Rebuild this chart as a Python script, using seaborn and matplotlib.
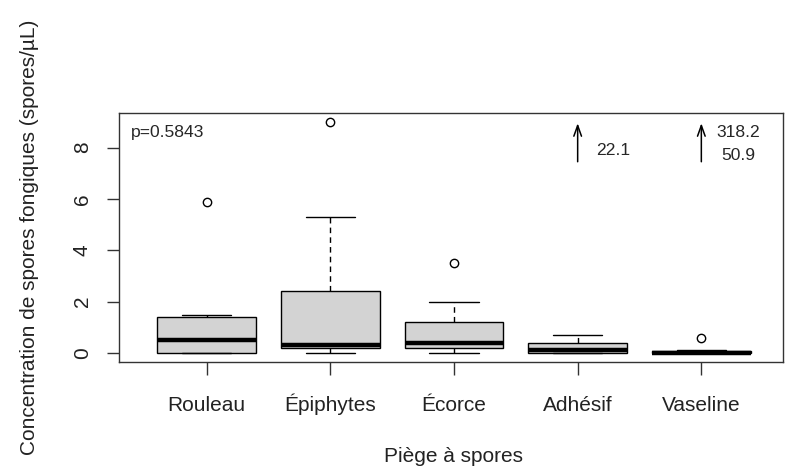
import numpy as np
import pandas as pd
import matplotlib
matplotlib.use('Agg')
import matplotlib.pyplot as plt
import seaborn as sns

# spore concentration per trap type (spores/uL)
traps = ['Rouleau', 'Épiphytes', 'Écorce', 'Adhésif', 'Vaseline']
rouleau = [0, 0, 0, 0.2, 0.5, 1.0, 1.4, 1.5, 5.9]
epiphytes = [0, 0.1, 0.2, 0.25, 0.3, 1.2, 2.4, 5.3, 9.0]
ecorce = [0, 0.1, 0.2, 0.3, 0.4, 0.8, 1.2, 2.0, 3.5]
adhesif = [0, 0.01, 0.02, 0.05, 0.1, 0.2, 0.38, 0.7, 22.1]
vaseline = [0, 0, 0, 0, 0, 0.01, 0.01, 0.02, 0.02, 0.03, 0.05, 0.06, 0.08,
            0.13, 0.58, 50.9, 318.2]

# off-scale outliers written next to arrows
off_labels = ['22.1', '318.2', '50.9']
off_x = [3.29, 4.3, 4.3]
off_y = [7.9, 8.6, 7.7]
arrow_x = [3, 4]
p_text = 'p=0.5843'

groups = [rouleau, epiphytes, ecorce, adhesif, vaseline]
df = pd.DataFrame({
    'Piege': np.repeat(traps, [len(g) for g in groups]),
    'Conc': np.concatenate(groups),
})

sns.set_style('ticks')
plt.rcParams['font.family'] = ['Liberation Sans', 'DejaVu Sans']

fig = plt.figure(figsize=(7.88, 4.69), dpi=100)
ax = fig.add_axes([0.1516, 0.2275, 0.842, 0.5322])

sns.boxplot(data=df, x='Piege', y='Conc', order=traps, ax=ax,
            color='#D3D3D3', linecolor='black', linewidth=1, width=0.8,
            saturation=1, whis=1.5, fliersize=6,
            medianprops={'linewidth': 3.2},
            whiskerprops={'linestyle': (0, (4, 3))},
            flierprops={'marker': 'o', 'markerfacecolor': 'none',
                        'markeredgecolor': 'black', 'markeredgewidth': 1})

ax.set_ylim(-0.36, 9.36)
ax.set_xlim(-0.705, 4.66)
ax.set_yticks([0, 2, 4, 6, 8])

for x in arrow_x:
    ax.annotate('', xy=(x, 8.95), xytext=(x, 7.45),
                arrowprops=dict(arrowstyle='->, head_length=0.7, head_width=0.25',
                                color='black', lw=1.1,
                                shrinkA=0, shrinkB=0, mutation_scale=11))
for lab, x, y in zip(off_labels, off_x, off_y):
    ax.text(x, y, lab, ha='center', va='center', fontsize=12.6)
ax.text(-0.61, 8.6, p_text, ha='left', va='center', fontsize=12.6)

for s in ax.spines.values():
    s.set_visible(True)
    s.set_linewidth(1)
    s.set_color('#333333')

ax.tick_params(axis='both', direction='out', length=9, width=1,
               color='#333333', labelsize=15, labelcolor='#222222')
ax.tick_params(axis='x', pad=26)
ax.tick_params(axis='y', pad=11)
for t in ax.get_xticklabels():
    t.set_va('baseline')
for t in ax.get_yticklabels():
    t.set_rotation(90)
    t.set_va('center')

ax.set_xlabel('Piège à spores', fontsize=15, color='#222222', va='center')
ax.set_ylabel('Concentration de spores fongiques (spores/µL)', fontsize=15,
              color='#222222', va='center')
ax.xaxis.set_label_coords(0.503, -0.379)
ax.yaxis.set_label_coords(-0.135, 0.5)

fig.savefig('out.png', dpi=100)
